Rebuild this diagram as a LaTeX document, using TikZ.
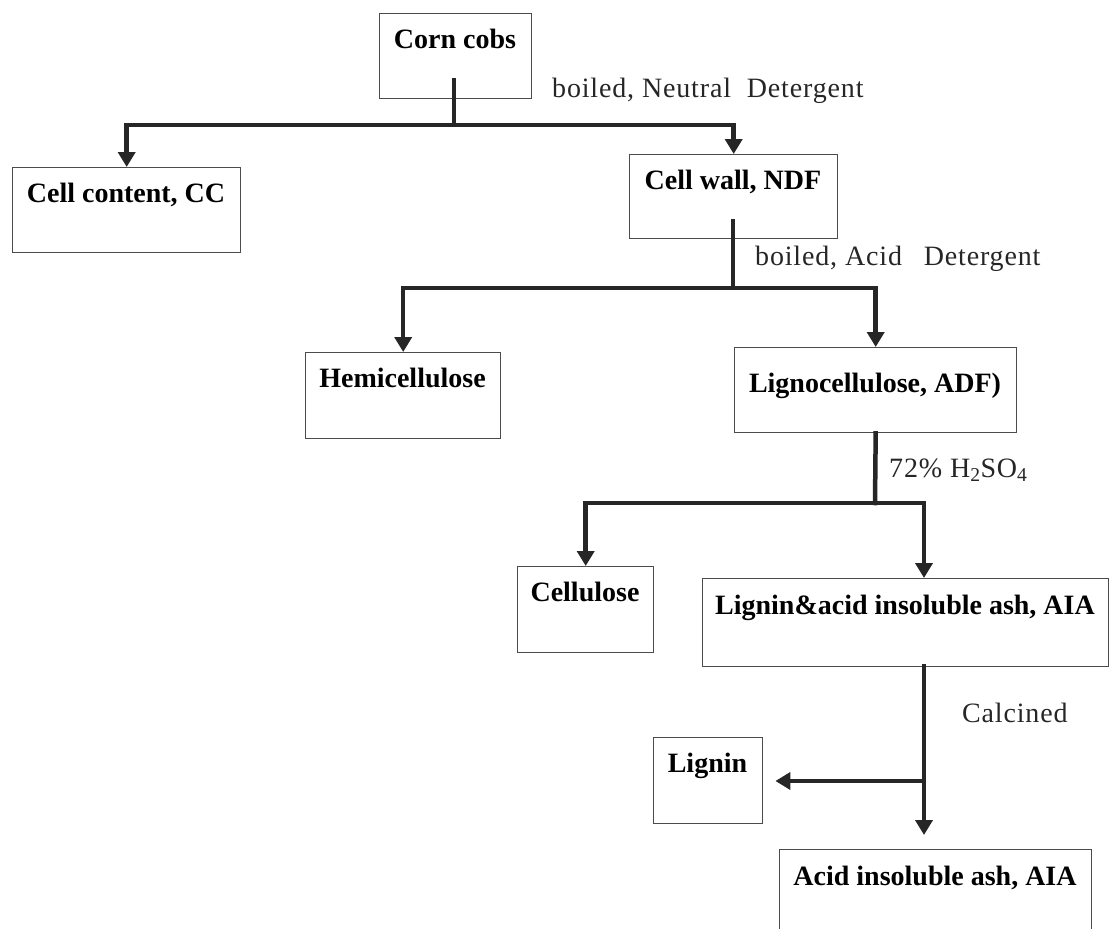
\documentclass[tikz,border=0pt]{standalone}
\usepackage{fontspec}
\setmainfont{Liberation Serif}
\newfontfamily\lblfont[LetterSpace=3]{Liberation Serif}
\usetikzlibrary{arrows.meta,calc}
\begin{document}
\begin{tikzpicture}[x=1pt,y=-1pt,
  box/.style={draw=black!70, line width=1.4pt, rectangle, inner sep=0pt, anchor=north west},
  bt/.style={font=\fontsize{28}{32}\selectfont\bfseries, text=black, inner sep=0pt, anchor=base},
  lt/.style={font=\fontsize{28}{32}\selectfont\lblfont, text=black!85, inner sep=0pt, anchor=base west},
  conn/.style={line width=4.5pt, draw=black!85, line cap=rect},
  arr/.style={conn, -{Triangle[width=17pt,length=15pt]}},
]
\useasboundingbox (0,0) rectangle (1109,929);
\clip (0,0) rectangle (1109,929);
% boxes
\node[box, minimum width=152pt, minimum height=85pt] (corn) at (379,13) {};
\node[box, minimum width=228pt, minimum height=85pt] (cc) at (12,167) {};
\node[box, minimum width=208pt, minimum height=84pt] (ndf) at (629,154) {};
\node[box, minimum width=195pt, minimum height=86pt] (hemi) at (305,352) {};
\node[box, minimum width=282pt, minimum height=85pt] (adf) at (734,347) {};
\node[box, minimum width=136pt, minimum height=86pt] (cell) at (517,566) {};
\node[box, minimum width=406pt, minimum height=88pt] (aia) at (702,578) {};
\node[box, minimum width=109pt, minimum height=86pt] (lig) at (653,737) {};
\node[box, minimum width=312pt, minimum height=100pt] (ash) at (779,849) {};
% box texts
\node[bt] (corn-t) at (455,48) {Corn cobs};
\node[bt] (cc-t) at (126,202) {Cell content, CC};
\node[bt] (ndf-t) at (733,189) {Cell wall, NDF};
\node[bt] (hemi-t) at (402.5,387) {Hemicellulose};
\node[bt] (adf-t) at (875,392) {Lignocellulose, ADF)};
\node[bt] (cell-t) at (585,601) {Cellulose};
\node[bt] (aia-t) at (905,614) {Lignin\&acid insoluble ash, AIA};
\node[bt] (lig-t) at (707.5,772) {Lignin};
\node[bt] (ash-t) at (935,885) {Acid insoluble ash, AIA};
% step labels
\node[lt] (l1) at (552,97) {boiled, Neutral\hspace{8pt} Detergent};
\node[lt] (l2) at (755,265) {boiled, Acid\hspace{14pt} Detergent};
\node[lt] (l3) at (889,477) {72\% H\textsubscript{2}SO\textsubscript{4}};
\node[lt] (l4) at (962,722) {Calcined};
% connectors
\coordinate (s1) at (454,80);
\coordinate (j1) at (454,125);
\draw[conn] (s1) -- (j1);
\draw[arr] (j1) -| (cc.north);
\draw[arr] (j1) -| (ndf.north);
\coordinate (s2) at (733,221);
\coordinate (j2) at (733,288);
\draw[conn] (s2) -- (j2);
\draw[arr] (j2) -| (hemi.north);
\draw[arr] (j2) -| (adf.north);
\coordinate (j3) at (875,503);
\coordinate (e3) at (924,578);
\draw[conn] (adf.south) -- (j3);
\draw[arr] (j3) -| (cell.north);
\draw[arr] (j3) -| (e3);
\coordinate (s4) at (924,666);
\coordinate (j4) at (924,781);
\draw[arr, shorten >=14pt] (s4) -- (s4 |- ash.north);
\draw[arr, shorten >=12pt] (j4) -- (j4 -| lig.east);
\end{tikzpicture}
\end{document}
